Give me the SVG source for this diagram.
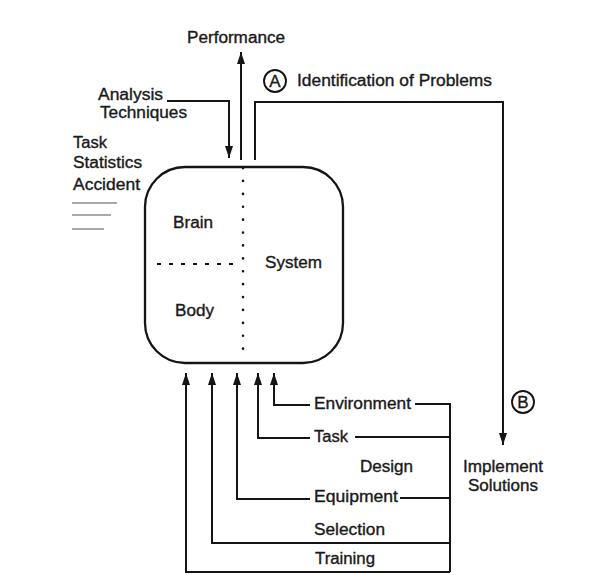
<svg xmlns="http://www.w3.org/2000/svg" width="600" height="575" viewBox="0 0 600 575">
  <defs>
    <marker id="arrow" viewBox="0 0 12 8" refX="12" refY="4" markerWidth="13" markerHeight="8" markerUnits="userSpaceOnUse" orient="auto">
      <path d="M0,0 L12,4 L0,8 z" fill="#151515"/>
    </marker>
    <style>
      text { font-family: "Liberation Sans", Arial, sans-serif; font-size: 16px; fill: #1a1a1a; stroke: #1a1a1a; stroke-width: 0.35; }
      .line { fill: none; stroke: #151515; stroke-width: 2; }
      .arr { marker-end: url(#arrow); }
      .dots { fill: none; stroke: #151515; stroke-width: 2.6; stroke-linecap: round; stroke-dasharray: 0.1 12.8; }
      .dash { fill: none; stroke: #151515; stroke-width: 2; stroke-dasharray: 4 8; }
      .thin { fill: none; stroke: #555; stroke-width: 1.2; }
      .circ { fill: #fff; stroke: #151515; stroke-width: 1.9; }
      text.tag { font-size: 17px; }
    </style>
  </defs>
  <rect width="600" height="575" fill="#fff"/>

  <!-- central brain/body/system block -->
  <g id="system-box">
    <rect x="145" y="167" width="198" height="196" rx="40" ry="40" fill="none" stroke="#151515" stroke-width="2.3"/>
    <path class="dots" d="M243 168 V356"/>
    <path class="dash" d="M157 264 H241"/>
    <text x="173" y="228" textLength="40" lengthAdjust="spacingAndGlyphs">Brain</text>
    <text x="265" y="268" textLength="57" lengthAdjust="spacingAndGlyphs">System</text>
    <text x="175" y="316" textLength="39" lengthAdjust="spacingAndGlyphs">Body</text>
  </g>

  <g id="performance">
    <text x="187" y="43" textLength="98" lengthAdjust="spacingAndGlyphs">Performance</text>
  </g>

  <g id="analysis">
    <text x="98" y="100" textLength="65" lengthAdjust="spacingAndGlyphs">Analysis</text>
    <text x="100" y="118" textLength="87" lengthAdjust="spacingAndGlyphs">Techniques</text>
  </g>

  <g id="data-sources">
    <text x="73" y="148" textLength="34" lengthAdjust="spacingAndGlyphs">Task</text>
    <text x="73" y="168" textLength="69" lengthAdjust="spacingAndGlyphs">Statistics</text>
    <text x="73" y="190" textLength="67" lengthAdjust="spacingAndGlyphs">Accident</text>
    <path class="thin" d="M72 203 H117 M72 215 H111 M72 229 H104"/>
  </g>

  <g id="identification">
    <circle class="circ" cx="275" cy="81" r="11"/>
    <text class="tag" x="275" y="87" text-anchor="middle">A</text>
    <text x="297" y="86" textLength="195" lengthAdjust="spacingAndGlyphs">Identification of Problems</text>
  </g>

  <g id="implement">
    <circle class="circ" cx="523" cy="402" r="11"/>
    <text class="tag" x="523" y="408" text-anchor="middle">B</text>
    <text x="463" y="472" textLength="80" lengthAdjust="spacingAndGlyphs">Implement</text>
    <text x="468" y="491" textLength="70" lengthAdjust="spacingAndGlyphs">Solutions</text>
  </g>

  <g id="design-inputs">
    <text x="314" y="409" textLength="97" lengthAdjust="spacingAndGlyphs">Environment</text>
    <text x="314" y="442" textLength="34" lengthAdjust="spacingAndGlyphs">Task</text>
    <text x="360" y="472" textLength="53" lengthAdjust="spacingAndGlyphs">Design</text>
    <text x="314" y="502" textLength="84" lengthAdjust="spacingAndGlyphs">Equipment</text>
    <text x="314" y="535" textLength="71" lengthAdjust="spacingAndGlyphs">Selection</text>
    <text x="315" y="564" textLength="60" lengthAdjust="spacingAndGlyphs">Training</text>
  </g>

  <!-- connectors -->
  <g id="connectors">
    <path class="line arr" d="M241 160 V52"/>
    <path class="line arr" d="M167 101 H229 V158"/>
    <path class="line arr" d="M255 160 V102 H503 V445"/>
    <path class="line" d="M415 404 H450 V572"/>
    <path class="line arr" d="M310 405 H274 V373"/>
    <path class="line" d="M355 437 H450"/>
    <path class="line arr" d="M310 438 H258 V373"/>
    <path class="line" d="M400 498 H450"/>
    <path class="line arr" d="M310 499 H237 V373"/>
    <path class="line arr" d="M450 543 H212 V373"/>
    <path class="line arr" d="M450 572 H186 V373"/>
  </g>
</svg>
